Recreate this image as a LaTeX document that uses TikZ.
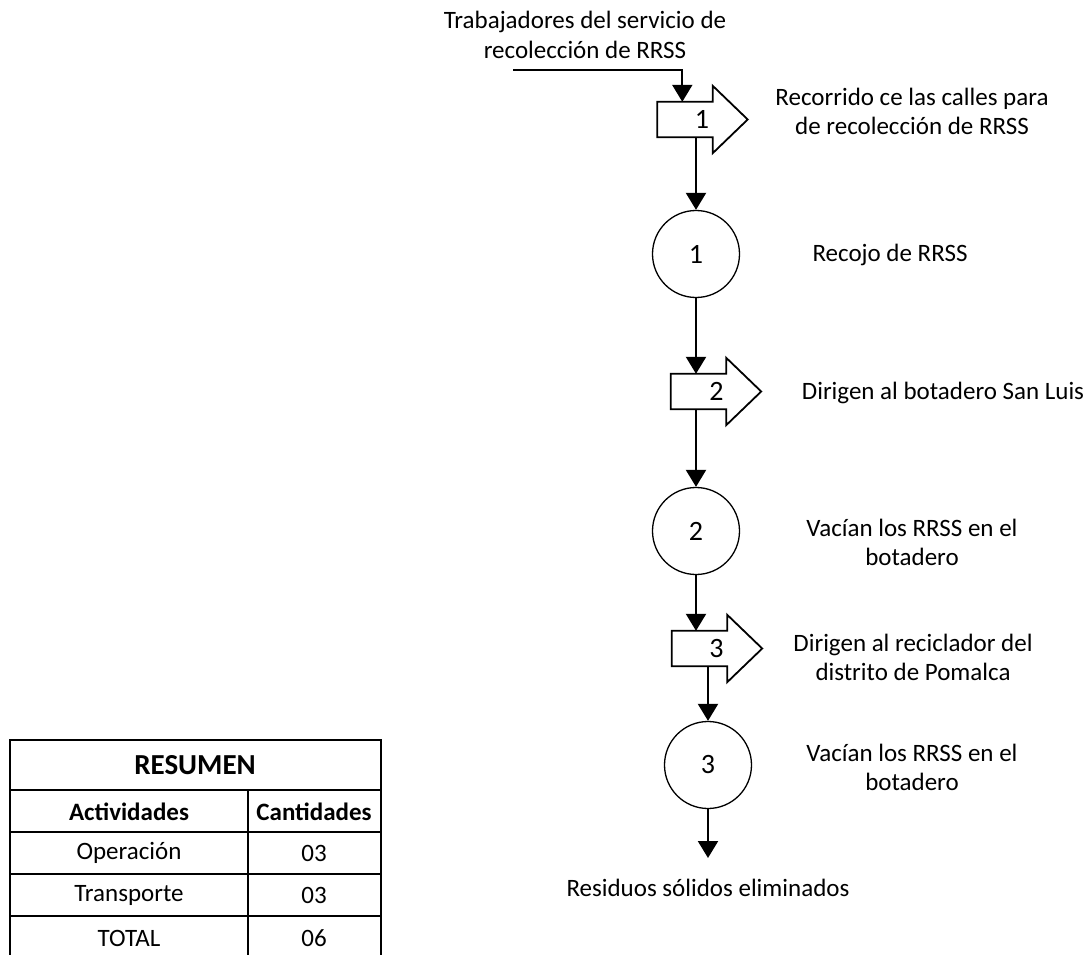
\documentclass[tikz,border=0pt]{standalone}
\usepackage{fontspec}
\setmainfont{Carlito}
\usetikzlibrary{arrows.meta,calc}
\begin{document}
\begin{tikzpicture}[x=1pt,y=-1pt,
  txt/.style={font=\fontsize{25}{29}\selectfont, align=center, inner sep=0pt, text=black},
  num/.style={font=\fontsize{28}{30}\selectfont, inner sep=0pt, text=black},
  conn/.style={line width=2.2pt, -{Triangle[width=20pt,length=17pt]}},
  opcircle/.style={circle, draw, line width=1.3pt, minimum size=87pt, inner sep=0pt, font=\fontsize{28}{30}\selectfont},
  tbody/.style={minimum width=55pt, minimum height=35pt, inner sep=0pt},
  tshape/.style={line width=1.8pt, line join=miter},
  grid/.style={line width=1.5pt},
  cell/.style={font=\fontsize{25}{29}\selectfont, inner sep=0pt},
  bcell/.style={font=\fontsize{25}{29}\selectfont\bfseries, inner sep=0pt}]
\useasboundingbox (0,0) rectangle (1090,955);

% ---- transport shapes ----
\node[tbody] (t1) at (685,119.5) {};
\node[tbody] (t2) at (698.5,391.5) {};
\node[tbody] (t3) at (699.5,648.5) {};
\foreach \t in {t1,t2,t3}{
  \draw[tshape] (\t.north west) -- (\t.north east) -- ([yshift=16pt]\t.north east)
    -- ([xshift=35pt]\t.east) -- ([yshift=-16pt]\t.south east) -- (\t.south east)
    -- (\t.south west) -- cycle;
}
\node[num] (t1n) at ([xshift=17pt]t1.center) {1};
\node[num] (t2n) at ([xshift=18pt]t2.center) {2};
\node[num] (t3n) at ([xshift=17pt]t3.center) {3};

% ---- operations ----
\node[opcircle] (c1) at (696,254) {1};
\node[opcircle] (c2) at (696,531) {2};
\node[opcircle] (c3) at (708,765) {3};

% ---- texts ----
\node[txt, font=\fontsize{25}{30}\selectfont] (top) at (585,35) {Trabajadores del servicio de\\recolección de RRSS};
\node[txt] (l1) at (912,111) {Recorrido ce las calles para\\de recolección de RRSS};
\node[txt] (l2) at (890,255) {Recojo de RRSS};
\node[txt] (l3) at (943,393) {Dirigen al botadero San Luis};
\node[txt] (l4) at (912,542) {Vacían los RRSS en el\\botadero};
\node[txt] (l5) at (913,657) {Dirigen al reciclador del\\distrito de Pomalca};
\node[txt] (l6) at (912,767) {Vacían los RRSS en el\\botadero};
\node[txt] (end) at (708,888) {Residuos sólidos eliminados};

% ---- connectors ----
\coordinate (in) at (513,70);
\coordinate (out) at (708,858);
\draw[conn] (in) -| ($(t1.north west)+(25,0)$);
\draw[conn] (t1.south -| c1.north) -- (c1.north);
\draw[conn] (c1.south) -- (c1.south |- t2.north);
\draw[conn] (t2.south -| c2.north) -- (c2.north);
\draw[conn] (c2.south) -- (c2.south |- t3.north);
\draw[conn] (t3.south -| c3.north) -- (c3.north);
\draw[conn] (c3.south) -- (out);

% ---- summary table ----
\draw[grid] (10,955) -- (10,740) -- (381,740) -- (381,955);
\draw[grid] (10,790) -- (381,790);
\draw[grid] (10,832) -- (381,832);
\draw[grid] (10,874) -- (381,874);
\draw[grid] (10,916) -- (381,916);
\draw[grid] (248,790) -- (248,955);
\node[bcell, font=\fontsize{29}{31}\selectfont\bfseries] (tres) at (195,765) {RESUMEN};
\node[bcell] (tact) at (129,812) {Actividades};
\node[bcell] (tcan) at (314,812) {Cantidades};
\node[cell] (top1) at (129,853) {Operación};
\node[cell] (top2) at (314,853) {03};
\node[cell] (ttr1) at (129,895) {Transporte};
\node[cell] (ttr2) at (314,895) {03};
\node[cell] (ttot1) at (129,938) {TOTAL};
\node[cell] (ttot2) at (314,938) {06};
\end{tikzpicture}
\end{document}
